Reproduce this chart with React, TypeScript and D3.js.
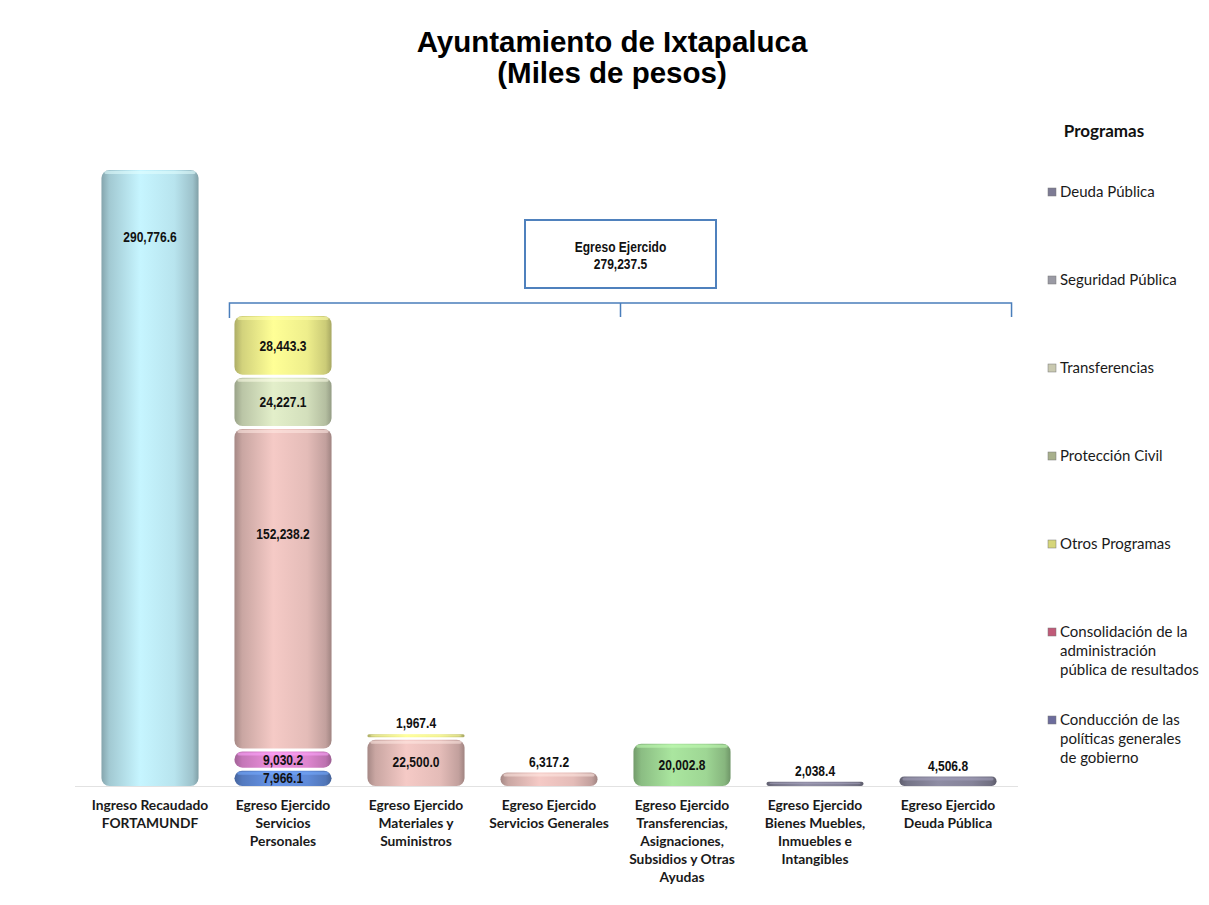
import React from 'react'
import * as d3 from 'd3'

const W = 1209
const H = 905

// categories (x axis), one line per array entry
const categories = [
  ['Ingreso Recaudado', 'FORTAMUNDF'],
  ['Egreso Ejercido', 'Servicios', 'Personales'],
  ['Egreso Ejercido', 'Materiales y', 'Suministros'],
  ['Egreso Ejercido', 'Servicios Generales'],
  ['Egreso Ejercido', 'Transferencias,', 'Asignaciones,', 'Subsidios y Otras', 'Ayudas'],
  ['Egreso Ejercido', 'Bienes Muebles,', 'Inmuebles e', 'Intangibles'],
  ['Egreso Ejercido', 'Deuda Pública'],
]

// series values per category (miles de pesos)
const ingreso        = [290776.6, 0, 0, 0, 0, 0, 0]
const conduccion     = [0, 7966.1, 0, 0, 0, 0, 0]
const seguridad      = [0, 9030.2, 0, 0, 0, 0, 0]
const consolidacion  = [0, 152238.2, 22500.0, 6317.2, 0, 0, 0]
const proteccion     = [0, 24227.1, 0, 0, 0, 0, 0]
const otros          = [0, 28443.3, 1967.4, 0, 0, 0, 0]
const transferencias = [0, 0, 0, 0, 20002.8, 0, 0]
const deuda          = [0, 0, 0, 0, 0, 2038.4, 4506.8]

const egresoTotal = 279237.5

// legend, top to bottom
const legendItems = [
  { lines: ['Deuda Pública'], color: '#7d7b94' },
  { lines: ['Seguridad Pública'], color: '#9a9aa4' },
  { lines: ['Transferencias'], color: '#c9c9b0' },
  { lines: ['Protección Civil'], color: '#a8b08c' },
  { lines: ['Otros Programas'], color: '#d6d67a' },
  { lines: ['Consolidación de la', 'administración', 'pública de resultados'], color: '#c05a78' },
  { lines: ['Conducción de las', 'políticas generales', 'de gobierno'], color: '#6c6c9c' },
]

// stack order, bottom to top
const series = [
  { key: 'ingreso', values: ingreso, color: '#b8e4ee' },
  { key: 'conduccion', values: conduccion, color: '#5f8ad8' },
  { key: 'seguridad', values: seguridad, color: '#de86cf' },
  { key: 'consolidacion', values: consolidacion, color: '#e4bcb8' },
  { key: 'proteccion', values: proteccion, color: '#d3dfbc' },
  { key: 'otros', values: otros, color: '#eeee8c' },
  { key: 'transferencias', values: transferencias, color: '#9ed694' },
  { key: 'deuda', values: deuda, color: '#858399' },
]

// hand-placed label nudges from the original (px relative to segment centre)
const LABEL_NUDGE: Record<string, number> = { 'ingreso-0': -241, 'consolidacion-1': -55 }

const fmt = d3.format(',.1f')
const LABEL_FONT = "'Liberation Sans', Arial, sans-serif"
const TEXT_FONT = "Lato, 'Open Sans', sans-serif"

export default function App() {
  const baseY = 786
  const x = d3.scaleBand<number>()
    .domain(categories.map((_, i) => i))
    .range([83.5, 1014.5])
    .paddingInner(0.27)
    .paddingOuter(0.135)
  const y = d3.scaleLinear().domain([0, 300000]).range([baseY, 150.5])
  const bw = x.bandwidth()

  // stacked segments
  const segs: any[] = []
  categories.forEach((_, ci) => {
    let acc = 0
    series.forEach(s => {
      const v = s.values[ci]
      if (!v) return
      segs.push({ key: `${s.key}-${ci}`, ci, v, y0: acc, y1: acc + v, color: s.color, sid: s.key })
      acc += v
    })
  })
  const stackTop = (ci: number) => d3.sum(series, s => s.values[ci])

  const bx0 = x(1)! - 5
  const bx1 = x(6)! + bw + 15
  const bmid = (bx0 + bx1) / 2
  const by = 303

  return (
    <svg width={W} height={H} style={{ display: 'block', position: 'absolute', left: 0, top: 0, background: '#fff' }}>
      <defs>
        {series.map(s => {
          const c = d3.color(s.color)!
          return (
            <linearGradient key={s.key} id={`g-${s.key}`} x1="0" x2="1" y1="0" y2="0">
              <stop offset="0%" stopColor={c.darker(0.9).toString()} />
              <stop offset="8%" stopColor={c.darker(0.35).toString()} />
              <stop offset="40%" stopColor={c.brighter(0.2).toString()} />
              <stop offset="75%" stopColor={s.color} />
              <stop offset="94%" stopColor={c.darker(0.45).toString()} />
              <stop offset="100%" stopColor={c.darker(1).toString()} />
            </linearGradient>
          )
        })}
      </defs>
      <rect width={W} height={H} fill="#fff" />

      <text x={612} y={52} textAnchor="middle" fontFamily="'Liberation Sans', Arial, sans-serif" fontWeight="bold" fontSize={29.5}>Ayuntamiento de Ixtapaluca</text>
      <text x={612} y={83} textAnchor="middle" fontFamily="'Liberation Sans', Arial, sans-serif" fontWeight="bold" fontSize={29.5}>(Miles de pesos)</text>

      {/* baseline */}
      <line x1={75} x2={1018} y1={baseY + 0.5} y2={baseY + 0.5} stroke="#e2e2e2" strokeWidth={1} />

      {segs.map(s => {
        const top = y(s.y1)
        const bot = y(s.y0)
        const gap = s.y0 > 0 ? 1.5 : 0
        const gapT = s.y1 < stackTop(s.ci) ? 1.5 : 0
        const yy = top + gapT
        const hh = Math.max(3, bot - top - gap - gapT)
        const r = Math.min(8, hh / 2)
        const c = d3.color(s.color)!
        return (
          <g key={s.key}>
            <rect x={x(s.ci)} y={yy} width={bw} height={hh} rx={r} ry={r} fill={`url(#g-${s.sid})`} />
            <rect x={x(s.ci)! + 3} y={yy + 1} width={bw - 6} height={Math.min(3, hh / 3)} rx={1.5}
              fill={c.brighter(0.6).toString()} opacity={0.55} />
          </g>
        )
      })}

      {segs.map(s => {
        const top = y(s.y1)
        const bot = y(s.y0)
        const h = bot - top
        let ly: number
        if (h < 15) {
          ly = y(stackTop(s.ci)) - 11
        } else {
          ly = (top + bot) / 2 + (LABEL_NUDGE[s.key] || 0)
        }
        const cx = x(s.ci)! + bw / 2
        return (
          <g key={`l-${s.key}`} transform={`translate(${cx},${ly}) scale(0.83,1)`}>
            <text x={0} y={0} dy="0.36em" textAnchor="middle"
              fontFamily={LABEL_FONT} fontWeight="bold" fontSize={14.5} fill="#111">{fmt(s.v)}</text>
          </g>
        )
      })}

      {/* category labels */}
      {categories.map((lines, ci) => (
        <text key={`c-${ci}`} x={x(ci)! + bw / 2} y={810} textAnchor="middle"
          fontFamily={TEXT_FONT} fontWeight="bold" fontSize={13.8} fill="#1a1a1a">
          {lines.map((ln, li) => <tspan key={li} x={x(ci)! + bw / 2} dy={li === 0 ? 0 : 18}>{ln}</tspan>)}
        </text>
      ))}

      {/* egreso bracket */}
      <path d={`M${bx0},${by + 15}V${by}H${bx1}V${by + 14}M${bmid},${by}V${by + 14}`} fill="none" stroke="#4a7ebb" strokeWidth={1.5} />
      <rect x={bmid - 95.5} y={220} width={191} height={68} fill="#fff" stroke="#4f81bd" strokeWidth={2} />
      <g transform={`translate(${bmid},0) scale(0.86,1)`}>
        <text x={0} y={252} textAnchor="middle" fontFamily={LABEL_FONT} fontWeight="bold" fontSize={14} fill="#111">Egreso Ejercido</text>
        <text x={0} y={269} textAnchor="middle" fontFamily={LABEL_FONT} fontWeight="bold" fontSize={14} fill="#111">{fmt(egresoTotal)}</text>
      </g>

      {/* legend */}
      <text x={1104} y={137} textAnchor="middle" fontFamily={TEXT_FONT} fontWeight="bold" fontSize={17} fill="#111">Programas</text>
      {legendItems.map((it, i) => {
        const ty = 197 + i * 88
        return (
          <g key={`lg-${i}`}>
            <rect x={1048} y={ty - 9} width={8} height={8} fill={it.color} stroke="#777" strokeWidth={0.5} />
            <text x={1060} y={ty} fontFamily={TEXT_FONT} fontSize={15} fill="#1a1a1a">
              {it.lines.map((ln, li) => <tspan key={li} x={1060} dy={li === 0 ? 0 : 19}>{ln}</tspan>)}
            </text>
          </g>
        )
      })}
    </svg>
  )
}
